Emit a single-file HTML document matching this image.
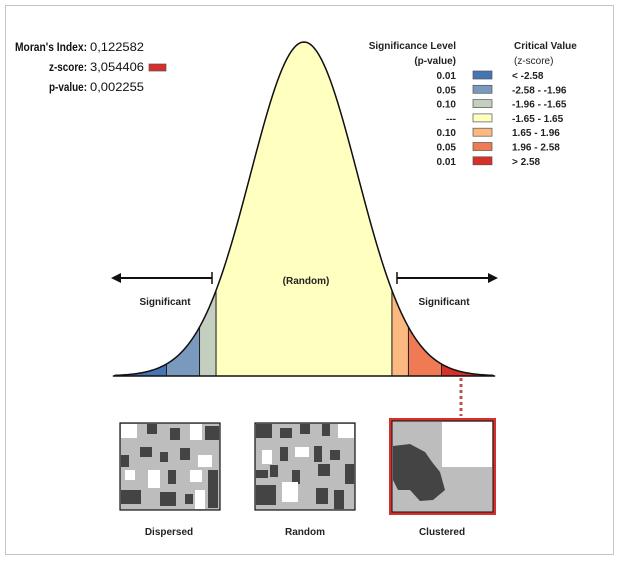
<!DOCTYPE html>
<html><head><meta charset="utf-8"><style>
html,body{margin:0;padding:0;background:#fff;}
svg text{font-family:"Liberation Sans",sans-serif;}
</style></head><body>
<svg width="619" height="562" viewBox="0 0 619 562" xmlns="http://www.w3.org/2000/svg">
<rect x="5.5" y="5.5" width="608" height="549" fill="#fff" stroke="#c4c4c4"/>
<g font-size="12" fill="#111">
<text x="15" y="51" font-weight="bold" textLength="72" lengthAdjust="spacingAndGlyphs">Moran's Index:</text>
<text x="90" y="51" textLength="54" lengthAdjust="spacingAndGlyphs">0,122582</text>
<text x="49" y="71" font-weight="bold" textLength="38" lengthAdjust="spacingAndGlyphs">z-score:</text>
<text x="90" y="71" textLength="54" lengthAdjust="spacingAndGlyphs">3,054406</text>
<rect x="149" y="64" width="17" height="7" fill="#d7302a" stroke="#555" stroke-width="0.7"/>
<text x="49" y="91" font-weight="bold" textLength="38" lengthAdjust="spacingAndGlyphs">p-value:</text>
<text x="90" y="91" textLength="54" lengthAdjust="spacingAndGlyphs">0,002255</text>
</g>
<g id="curve"></g>
<g id="legend" font-size="10" font-weight="bold" fill="#222">
<text x="456" y="49" text-anchor="end">Significance Level</text>
<text x="456" y="64" text-anchor="end">(p-value)</text>
<text x="514" y="49">Critical Value</text>
<text x="514" y="64" font-weight="normal">(z-score)</text>
</g>
<g font-size="10" font-weight="bold" fill="#222">
<line x1="114" y1="278" x2="212" y2="278" stroke="#111" stroke-width="2"/>
<path d="M111 278 l10 -5 v10 Z" fill="#111"/>
<line x1="212" y1="272" x2="212" y2="284" stroke="#111" stroke-width="1.5"/>
<line x1="397" y1="278" x2="495" y2="278" stroke="#111" stroke-width="2"/>
<path d="M498 278 l-10 -5 v10 Z" fill="#111"/>
<line x1="397" y1="272" x2="397" y2="284" stroke="#111" stroke-width="1.5"/>
<text x="165" y="305" text-anchor="middle">Significant</text>
<text x="444" y="305" text-anchor="middle">Significant</text>
<text x="306" y="284" text-anchor="middle">(Random)</text>
<line x1="461" y1="378" x2="461" y2="416" stroke="#c0504d" stroke-width="3" stroke-dasharray="3,3"/>
</g>
<g>
<rect x="120" y="423" width="100" height="87" fill="#bdbdbd" stroke="#111" stroke-width="1.2"/>
<rect x="121" y="424" width="16" height="14" fill="#fff"/><rect x="147" y="424" width="10" height="10" fill="#444"/><rect x="170" y="428" width="10" height="12" fill="#444"/><rect x="190" y="424" width="12" height="16" fill="#fff"/><rect x="205" y="426" width="14" height="14" fill="#444"/>
<rect x="121" y="455" width="8" height="12" fill="#444"/><rect x="140" y="447" width="12" height="10" fill="#444"/><rect x="160" y="452" width="8" height="10" fill="#444"/><rect x="180" y="448" width="10" height="12" fill="#444"/><rect x="198" y="455" width="14" height="12" fill="#fff"/>
<rect x="125" y="470" width="10" height="10" fill="#fff"/><rect x="148" y="470" width="12" height="18" fill="#fff"/><rect x="168" y="470" width="8" height="14" fill="#444"/><rect x="190" y="470" width="12" height="12" fill="#fff"/><rect x="208" y="470" width="10" height="38" fill="#444"/>
<rect x="121" y="490" width="20" height="14" fill="#444"/><rect x="160" y="492" width="16" height="14" fill="#444"/><rect x="185" y="494" width="8" height="10" fill="#444"/><rect x="195" y="490" width="10" height="19" fill="#fff"/>
</g>
<g>
<rect x="255" y="423" width="100" height="87" fill="#bdbdbd" stroke="#111" stroke-width="1.2"/>
<rect x="256" y="424" width="16" height="14" fill="#444"/><rect x="280" y="428" width="12" height="10" fill="#444"/><rect x="300" y="424" width="10" height="10" fill="#444"/><rect x="322" y="424" width="8" height="12" fill="#444"/><rect x="338" y="424" width="16" height="14" fill="#fff"/>
<rect x="262" y="450" width="10" height="14" fill="#fff"/><rect x="280" y="447" width="8" height="14" fill="#444"/><rect x="295" y="447" width="14" height="10" fill="#fff"/><rect x="314" y="446" width="8" height="16" fill="#444"/><rect x="330" y="450" width="10" height="10" fill="#444"/>
<rect x="256" y="470" width="12" height="8" fill="#444"/><rect x="270" y="465" width="8" height="12" fill="#444"/><rect x="292" y="470" width="8" height="14" fill="#444"/><rect x="318" y="464" width="12" height="12" fill="#444"/><rect x="345" y="464" width="9" height="20" fill="#444"/>
<rect x="256" y="485" width="20" height="20" fill="#444"/><rect x="282" y="482" width="16" height="20" fill="#fff"/><rect x="316" y="488" width="12" height="16" fill="#444"/><rect x="334" y="490" width="10" height="19" fill="#444"/>
</g>
<g>
<rect x="390.5" y="419.5" width="104" height="94" fill="#bdbdbd" stroke="#d7302a" stroke-width="3"/>
<rect x="392" y="421" width="101" height="91" fill="none" stroke="#111" stroke-width="1"/>
<rect x="442" y="422" width="50" height="45" fill="#fff"/>
<path d="M393 446 L410 444 L425 452 L432 462 L440 472 L445 490 L433 500 L420 501 L410 490 L398 490 L393 480 Z" fill="#444"/>
</g>
<g font-size="10" font-weight="bold" fill="#222">
<text x="169" y="535" text-anchor="middle">Dispersed</text>
<text x="305" y="535" text-anchor="middle">Random</text>
<text x="442" y="535" text-anchor="middle">Clustered</text>
</g>
</svg>
<script>
const bandEdges = [-3.55, -2.58, -1.96, -1.65, 1.65, 1.96, 2.58, 3.55];
const bandColors = ["#4575b5","#7a99be","#c5cfbf","#ffffbf","#fbb880","#ef7a54","#d7302a"];
const pLabels = ["0.01","0.05","0.10","---","0.10","0.05","0.01"];
const zLabels = ["< -2.58","-2.58 - -1.96","-1.96 - -1.65","-1.65 - 1.65","1.65 - 1.96","1.96 - 2.58","> 2.58"];
const NS="http://www.w3.org/2000/svg";
const cx=304, sx=53.3, base=376, peak=334;
const X=z=>cx+z*sx, Y=z=>base-peak*Math.exp(-z*z/2);
const g=document.getElementById('curve');
for(let i=0;i<bandColors.length;i++){
  const a=bandEdges[i], b=bandEdges[i+1];
  let d=`M${X(a)} ${base}`;
  for(let k=0;k<=60;k++){const z=a+(b-a)*k/60;d+=` L${X(z).toFixed(2)} ${Y(z).toFixed(2)}`;}
  d+=` L${X(b)} ${base} Z`;
  const p=document.createElementNS(NS,'path');
  p.setAttribute('d',d);p.setAttribute('fill',bandColors[i]);p.setAttribute('stroke','#222');p.setAttribute('stroke-width','1');
  
  
  g.appendChild(p);
}
let d=`M${X(-3.55)} ${Y(-3.55)}`;
for(let k=0;k<=200;k++){const z=-3.55+7.1*k/200;d+=` L${X(z).toFixed(2)} ${Y(z).toFixed(2)}`;}
const c=document.createElementNS(NS,'path');
c.setAttribute('d',d);c.setAttribute('fill','none');c.setAttribute('stroke','#111');c.setAttribute('stroke-width','1.5');


g.appendChild(c);
const bl=document.createElementNS(NS,'line');
bl.setAttribute('x1',X(-3.55)-2);bl.setAttribute('x2',X(3.55)+2);bl.setAttribute('y1',base);bl.setAttribute('y2',base);bl.setAttribute('stroke','#111');bl.setAttribute('stroke-width','1.5');


g.appendChild(bl);
const lg=document.getElementById('legend');
for(let i=0;i<pLabels.length;i++){
  const y=79+i*14.3;
  const t=document.createElementNS(NS,'text');
  t.setAttribute('x',456);t.setAttribute('y',y);t.setAttribute('text-anchor','end');t.textContent=pLabels[i];
  
  
  lg.appendChild(t);
  const r=document.createElementNS(NS,'rect');
  r.setAttribute('x',473);r.setAttribute('y',y-8);r.setAttribute('width',19);r.setAttribute('height',8);
  r.setAttribute('fill',bandColors[i]);r.setAttribute('stroke','#555');r.setAttribute('stroke-width','0.7');
  
  
  lg.appendChild(r);
  const t2=document.createElementNS(NS,'text');
  t2.setAttribute('x',512);t2.setAttribute('y',y);t2.textContent=zLabels[i];
  
  
  lg.appendChild(t2);
}
</script>
</body></html>
